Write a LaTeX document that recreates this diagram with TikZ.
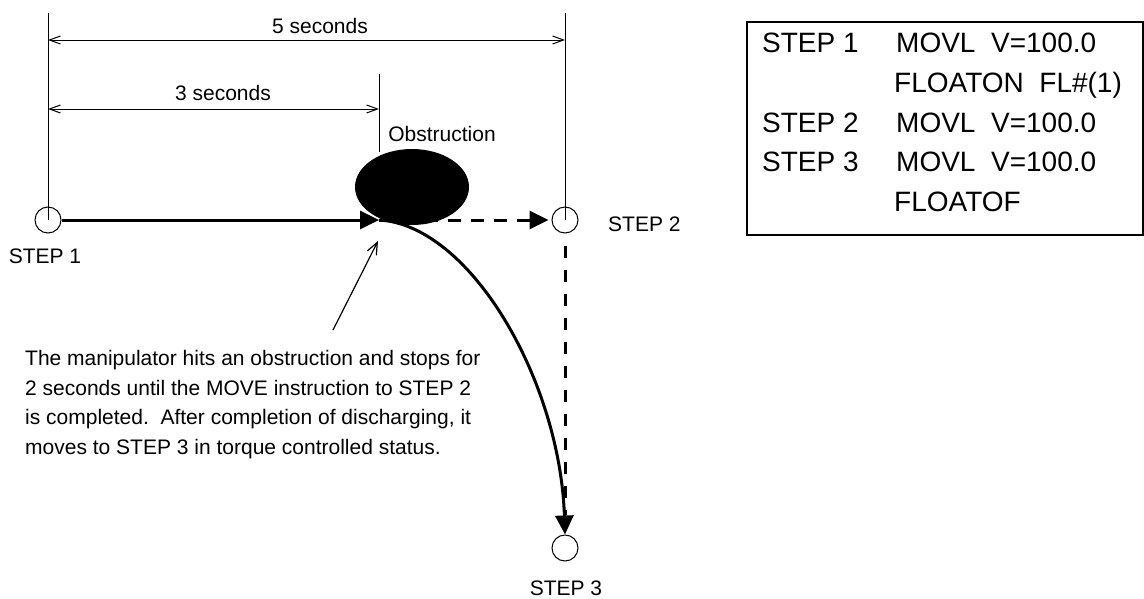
\documentclass[tikz,border=0pt]{standalone}
\usepackage{fontspec}
\setmainfont{Liberation Sans}
\usetikzlibrary{arrows.meta,shapes.geometric}
\begin{document}
\begin{tikzpicture}[x=1pt,y=-1pt,
 thinline/.style={line width=1pt},
 dimline/.style={line width=1pt,{Straight Barb[length=11pt,width=8pt]}-{Straight Barb[length=11pt,width=8pt]}},
 moveline/.style={line width=3pt,-{Triangle[length=19pt,width=18pt]}},
 stepcircle/.style={circle,draw,line width=1pt,minimum size=26pt,inner sep=0pt,fill=white},
 lbl/.style={font=\fontsize{21}{25}\selectfont,inner sep=0pt,anchor=base},
 bodytext/.style={font=\fontsize{21}{25}\selectfont,inner sep=0pt,anchor=base west},
 tbl/.style={font=\fontsize{28}{34}\selectfont,inner sep=0pt,anchor=base west}]
\useasboundingbox (0,0) rectangle (1144,598);

% named points
\coordinate (t1) at (48,13);
\coordinate (t2) at (565,13);
\coordinate (t3) at (379,74);
\coordinate (d5a) at (48,40);
\coordinate (d5b) at (565,40);
\coordinate (d3a) at (48,109);
\coordinate (d3b) at (379,109);
\coordinate (hit) at (379,220);
\coordinate (ptail) at (333,330);
\coordinate (phead) at (378,241);

% step circles
\node[stepcircle] (s1) at (48,220) {};
\node[stepcircle] (s2) at (565,220) {};
\node[stepcircle] (s3) at (565,548) {};

% extension lines
\draw[thinline] (t1) -- (s1.center);
\draw[thinline] (t2) -- (s2.center);

% dimension lines
\draw[dimline] (d5a) -- (d5b);
\draw[dimline] (d3a) -- (d3b);
\node[lbl] (l5) at (320,33) {5 seconds};
\node[lbl] (l3) at (223,100) {3 seconds};

% movements
\draw[moveline] (s1.east) -- (hit);
\draw[moveline,dash pattern=on 13pt off 10pt,shorten >=3pt] (hit) -- (s2.west);
\draw[line width=3pt,dash pattern=on 12pt off 12pt] (s2.south) ++(0,12) -- (565,515);
\draw[moveline] (hit) .. controls (470,225) and (560,380) .. (s3.north);

% obstruction
\node[ellipse,fill=black,minimum width=114pt,minimum height=76pt,inner sep=0pt] (obs) at (412,187) {};
\draw[thinline] (t3) -- (379,152);
\node[lbl] (lobs) at (442,141) {Obstruction};

% step labels
\node[lbl] (ls1) at (45,263) {STEP 1};
\node[bodytext] (ls2) at (608,231) {STEP 2};
\node[lbl] (ls3) at (566,595) {STEP 3};

% pointer arrow and explanation
\draw[line width=1.2pt,-{Straight Barb[length=12pt,width=10pt]}] (ptail) -- (phead);
\node[bodytext] (e1) at (25,365) {The manipulator hits an obstruction and stops for};
\node[bodytext] (e2) at (25,395) {2 seconds until the MOVE instruction to STEP 2};
\node[bodytext] (e3) at (25,424.5) {is completed.\ \ After completion of discharging, it};
\node[bodytext] (e4) at (25,454) {moves to STEP 3 in torque controlled status.};

% program box
\draw[line width=2pt] (747,22) rectangle (1143,235);
\node[tbl] (r1a) at (762,52) {STEP 1};
\node[tbl] (r1b) at (896,52) {MOVL\ \ V=100.0};
\node[tbl] (r2b) at (894,92) {FLOATON\ \ FL\#(1)};
\node[tbl] (r3a) at (762,132) {STEP 2};
\node[tbl] (r3b) at (896,132) {MOVL\ \ V=100.0};
\node[tbl] (r4a) at (762,171) {STEP 3};
\node[tbl] (r4b) at (896,171) {MOVL\ \ V=100.0};
\node[tbl] (r5b) at (894,211) {FLOATOF};
\end{tikzpicture}
\end{document}
